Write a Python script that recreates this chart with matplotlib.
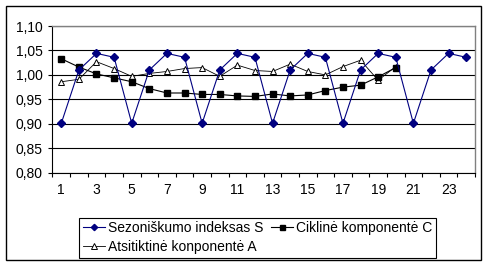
import numpy as np
import matplotlib
matplotlib.use('Agg')
import matplotlib.pyplot as plt
from matplotlib.ticker import FixedLocator, FuncFormatter, NullFormatter
from matplotlib.patches import Rectangle

plt.rcParams['font.family'] = ['Liberation Sans', 'DejaVu Sans']
plt.rcParams['font.size'] = 10

periods = np.arange(1, 25)
season_s = [0.901, 1.010, 1.044, 1.036] * 6
cycle_c = [1.033, 1.016, 1.002, 0.994, 0.986, 0.972, 0.963, 0.963, 0.960, 0.960,
           0.957, 0.956, 0.961, 0.957, 0.959, 0.968, 0.975, 0.979, 0.996, 1.015]
random_a = [0.986, 0.991, 1.027, 1.013, 0.997, 1.003, 1.007, 1.013, 1.015, 0.997,
            1.020, 1.009, 1.007, 1.022, 1.007, 1.000, 1.017, 1.030, 0.989, 1.017]
labels = ['Sezoniškumo indeksas S', 'Ciklinė komponentė C', 'Atsitiktinė konponentė A']

fig = plt.figure(figsize=(4.91, 2.67), dpi=100)
ax = fig.add_axes([0.1069, 0.3532, 0.8605, 0.5494])

# outer chart border
fig.patches.append(Rectangle((6/491, 7/267), 475/491, 254/267, transform=fig.transFigure,
                             fill=False, edgecolor='black', linewidth=1))

l_a, = ax.plot(periods[:len(random_a)], random_a, color='black', lw=0.6, marker='^',
               ms=5, mfc='white', mec='black', mew=0.7, zorder=3)
l_c, = ax.plot(periods[:len(cycle_c)], cycle_c, color='black', lw=0.8, marker='s',
               ms=4.5, mfc='black', mec='black', zorder=4)
l_s, = ax.plot(periods, season_s, color='#000080', lw=0.8, marker='D',
               ms=4, mfc='#000080', mec='#000080', zorder=5)

ax.set_xlim(0.5, 24.5)
ax.set_ylim(0.80, 1.10)
ax.yaxis.set_major_locator(FixedLocator(np.arange(0.80, 1.101, 0.05)))
ax.yaxis.set_major_formatter(FuncFormatter(lambda v, p: f'{v:.2f}'.replace('.', ',')))
ax.tick_params(axis='y', direction='out', length=2.7, width=0.8, pad=4.5)
ax.yaxis.grid(True, color='black', lw=0.8)
ax.set_axisbelow(True)

ax.xaxis.set_major_locator(FixedLocator(np.arange(0.5, 24.6, 1)))
ax.xaxis.set_major_formatter(NullFormatter())
ax.xaxis.set_minor_locator(FixedLocator(np.arange(1, 25, 2)))
ax.xaxis.set_minor_formatter(FuncFormatter(lambda v, p: f'{int(round(v))}'))
ax.tick_params(axis='x', which='major', direction='out', length=2.7, width=0.8)
ax.tick_params(axis='x', which='minor', length=0, pad=7.5)

for side in ['top', 'right']:
    ax.spines[side].set_color('#808080')
    ax.spines[side].set_linewidth(1)
for side in ['left', 'bottom']:
    ax.spines[side].set_color('black')
    ax.spines[side].set_linewidth(0.8)

leg = fig.legend([l_s, l_a, l_c], [labels[0], labels[2], labels[1]], ncol=2,
                 loc='lower left', bbox_to_anchor=(0.161, 0.035), fancybox=False,
                 edgecolor='black', framealpha=1, handlelength=1.6, handletextpad=0.2,
                 columnspacing=0.6, borderpad=0.25, labelspacing=0.35, markerscale=0.8,
                 fontsize=10, borderaxespad=0)
leg.get_frame().set_linewidth(0.8)

fig.savefig('out.png', dpi=100)
